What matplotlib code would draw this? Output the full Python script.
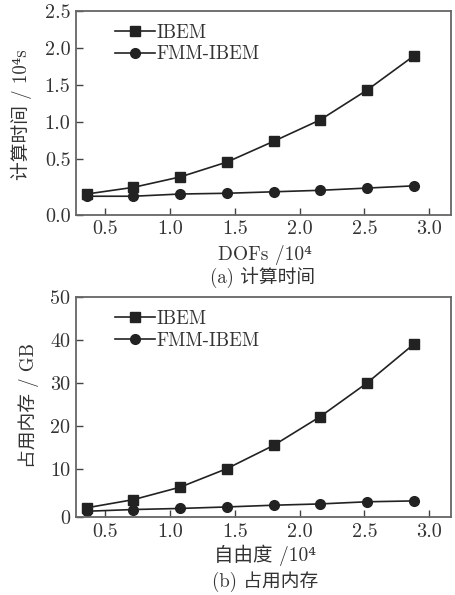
import matplotlib
matplotlib.use("Agg")
import matplotlib.pyplot as plt

plt.rcParams['font.family'] = ['cmr10', 'DejaVu Serif', 'Noto Sans CJK SC']
plt.rcParams['axes.formatter.use_mathtext'] = True

# degrees of freedom, 10^4
dofs = [0.36, 0.72, 1.08, 1.44, 1.80, 2.16, 2.52, 2.88]

# (a) computing time, 10^4 s
time_ibem = [0.03, 0.12, 0.26, 0.46, 0.74, 1.03, 1.43, 1.89]
time_fmm = [0.00, 0.00, 0.03, 0.04, 0.06, 0.08, 0.11, 0.14]

# (b) memory, GB
mem_ibem = [1.0, 2.9, 5.8, 10.1, 15.5, 22.2, 30.0, 39.0]
mem_fmm = [0.2, 0.6, 0.85, 1.2, 1.6, 1.9, 2.4, 2.6]

xticks = [0.5, 1.0, 1.5, 2.0, 2.5, 3.0]
xticklabels = ['0.5', '1.0', '1.5', '2.0', '2.5', '3.0']

# the bottom label of each y axis sits on the lower spine, as in the source figure
yticks_a = [-0.25, 0.5, 1.0, 1.5, 2.0, 2.5]
yticklabels_a = ['0.0', '0.5', '1.0', '1.5', '2.0', '2.5']
yticks_b = [-1.15, 10, 20, 30, 40, 50]
yticklabels_b = ['0', '10', '20', '30', '40', '50']

fig = plt.figure(figsize=(4.55, 5.95), dpi=100)
ax1 = fig.add_axes([0.167, 0.639, 0.825, 0.343])
ax2 = fig.add_axes([0.167, 0.131, 0.825, 0.370])

line_col = '#222222'


def style(ax, yticks, yticklabels, ylim):
    ax.set_xlim(0.277, 3.17)
    ax.set_ylim(*ylim)
    ax.set_xticks(xticks)
    ax.set_xticklabels(xticklabels)
    ax.set_yticks(yticks)
    ax.set_yticklabels(yticklabels)
    ax.tick_params(direction='in', length=5, width=1, labelsize=14.5,
                   colors='#444444', labelcolor='#333333', pad=4)
    for s in ax.spines.values():
        s.set_color('#666666')
        s.set_linewidth(1.3)
    leg = ax.legend(loc='upper left', bbox_to_anchor=(0.07, 1.0), frameon=False,
                    fontsize=13.5, handlelength=2.1, handletextpad=0.1,
                    labelspacing=0.2, borderaxespad=0.3)
    for t in leg.get_texts():
        t.set_color('#333333')


ax1.plot(dofs, time_ibem, '-s', color=line_col, lw=1.2, ms=7, label='IBEM')
ax1.plot(dofs, time_fmm, '-o', color=line_col, lw=1.2, ms=7, label='FMM-IBEM')
style(ax1, yticks_a, yticklabels_a, (-0.25, 2.5))

ax2.plot(dofs, mem_ibem, '-s', color=line_col, lw=1.2, ms=7, label='IBEM')
ax2.plot(dofs, mem_fmm, '-o', color=line_col, lw=1.2, ms=7, label='FMM-IBEM')
style(ax2, yticks_b, yticklabels_b, (-1.15, 50))

txt = dict(color='#333333', ha='center', va='center')
fig.text(0.048, 0.807, '计算时间 / 10⁴s', rotation=90, fontsize=13.5, **txt)
fig.text(0.582, 0.571, 'DOFs /10⁴', fontsize=14, **txt)
fig.text(0.576, 0.534, '(a) 计算时间', fontsize=13.5, **txt)

fig.text(0.062, 0.319, '占用内存 / GB', rotation=90, fontsize=13.5, **txt)
fig.text(0.582, 0.067, '自由度 /10⁴', fontsize=14, **txt)
fig.text(0.582, 0.022, '(b) 占用内存', fontsize=13.5, **txt)

fig.savefig('out.png', dpi=100)
